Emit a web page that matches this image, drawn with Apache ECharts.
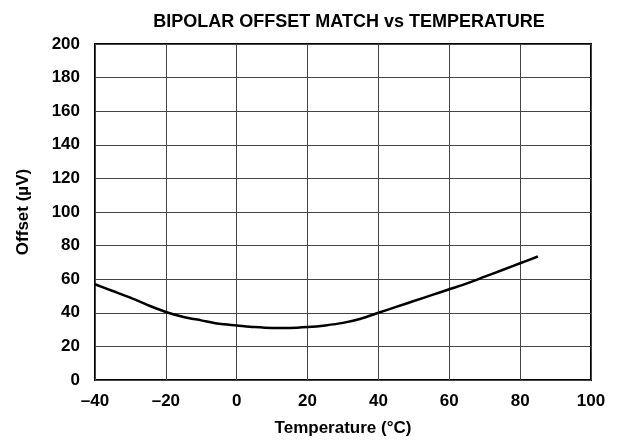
<!DOCTYPE html>
<html><head><meta charset="utf-8">
<script src="https://cdn.jsdelivr.net/npm/echarts@6/dist/echarts.min.js"></script>
<style>html,body{margin:0;padding:0;background:#fff}#c{width:620px;height:444px}</style>
</head><body><div id="c"></div>
<script>
const temps = [-40,-35,-30,-25,-20,-15,-10,-5,0,5,10,15,20,25,30,35,40,45,50,55,60,65,70,75,80,85];
const offsets = [57,53,49,44.5,40.5,37.5,35.5,33.5,32.5,31.5,31,31,31.5,32.5,34,36.5,40,43.5,47,50.5,54,57.5,61.5,65.5,69.5,73.5];
const titleText = 'BIPOLAR OFFSET MATCH vs TEMPERATURE';
const xName = 'Temperature (°C)';
const yName = 'Offset (µV)';
const font = '"Liberation Sans", Arial, sans-serif';
const chart = echarts.init(document.getElementById('c'));
chart.setOption({
  animation:false,
  title:{text:titleText,left:344,top:8,textAlign:'center',textStyle:{fontFamily:font,fontSize:18,fontWeight:'bold',color:'#000'}},
  grid:{left:95,right:29,top:44,bottom:64,show:true,borderColor:'#000',borderWidth:2,backgroundColor:'transparent'},
  xAxis:{type:'value',min:-40,max:100,interval:20,name:xName,nameLocation:'middle',nameGap:40,
    nameTextStyle:{fontFamily:font,fontSize:17,fontWeight:'bold',color:'#000'},
    axisLine:{show:false},axisTick:{show:false},
    axisLabel:{fontFamily:font,fontSize:17,fontWeight:'bold',color:'#000',margin:13,formatter:v=>String(v).replace('-','\u2013')},
    splitLine:{show:true,lineStyle:{color:'#444',width:1}}},
  yAxis:{type:'value',min:0,max:200,interval:20,name:yName,nameLocation:'middle',nameGap:63,
    nameTextStyle:{fontFamily:font,fontSize:17,fontWeight:'bold',color:'#000'},
    axisLine:{show:false},axisTick:{show:false},
    axisLabel:{fontFamily:font,fontSize:17,fontWeight:'bold',color:'#000',margin:15},
    splitLine:{show:true,lineStyle:{color:'#444',width:1}}},
  series:[{type:'line',data:temps.map((t,i)=>[t,offsets[i]]),smooth:0.3,showSymbol:false,
    lineStyle:{color:'#000',width:2.5}}]
});
</script></body></html>
